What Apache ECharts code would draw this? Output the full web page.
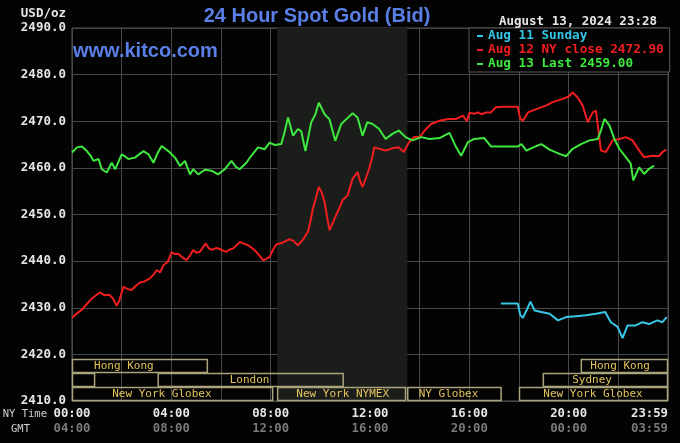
<!DOCTYPE html>
<html>
<head>
<meta charset="utf-8">
<script src="https://cdn.jsdelivr.net/npm/echarts@6/dist/echarts.min.js"></script>
<style>
html,body{margin:0;padding:0;background:#000;}
#chart{width:680px;height:443px;}
</style>
</head>
<body>
<div id="chart"></div>
<script>
// ---------- DATA ----------
const titleText = '24 Hour Spot Gold (Bid)';
const siteText = 'www.kitco.com';
const stampText = 'August 13, 2024 23:28';
const unitText = 'USD/oz';

const seriesNames = ['Aug 11 Sunday', 'Aug 12 NY close 2472.90', 'Aug 13 Last 2459.00'];

// [hour (NY time), price]
const aug11 = [[17.27,2430.9],[17.95,2430.9],[18.05,2428.5],[18.15,2427.8],[18.3,2429.4],[18.46,2431.3],[18.63,2429.4],[18.9,2429.1],[19.23,2428.7],[19.57,2427.3],[19.9,2428.0],[20.3,2428.2],[20.7,2428.4],[21.1,2428.7],[21.47,2429.1],[21.7,2426.9],[21.97,2425.9],[22.17,2423.5],[22.37,2426.2],[22.7,2426.2],[22.97,2426.9],[23.24,2426.5],[23.57,2427.3],[23.77,2426.9],[23.95,2428.0]];

const aug12 = [[0,2427.8],[0.2,2428.8],[0.4,2429.6],[0.6,2430.8],[0.8,2432.0],[1.0,2432.8],[1.13,2433.3],[1.3,2432.7],[1.5,2432.8],[1.65,2432.0],[1.8,2430.4],[1.9,2431.5],[2.07,2434.5],[2.25,2434.0],[2.4,2433.8],[2.55,2434.6],[2.74,2435.4],[2.9,2435.6],[3.14,2436.3],[3.3,2437.2],[3.41,2438.1],[3.55,2437.6],[3.68,2439.1],[3.85,2439.8],[4.01,2441.9],[4.15,2441.5],[4.28,2441.6],[4.45,2440.8],[4.61,2440.2],[4.75,2441.2],[4.88,2442.4],[5.0,2441.8],[5.15,2442.0],[5.38,2443.8],[5.5,2442.8],[5.62,2442.4],[5.8,2442.8],[5.95,2442.6],[6.1,2442.2],[6.22,2442.0],[6.35,2442.5],[6.49,2442.7],[6.76,2444.1],[6.9,2443.8],[7.09,2443.4],[7.25,2442.8],[7.42,2442.0],[7.55,2441.2],[7.69,2440.2],[7.8,2440.4],[7.96,2440.9],[8.1,2442.5],[8.23,2443.6],[8.5,2444.0],[8.76,2444.7],[8.9,2444.4],[9.1,2443.4],[9.3,2444.6],[9.5,2446.3],[9.6,2448.5],[9.7,2451.3],[9.82,2453.5],[9.94,2455.9],[10.05,2454.8],[10.17,2452.7],[10.27,2449.5],[10.37,2446.6],[10.5,2448.2],[10.64,2449.9],[10.8,2451.8],[10.9,2453.1],[11.1,2454.1],[11.3,2457.7],[11.5,2459.1],[11.6,2457.2],[11.7,2455.9],[11.85,2458.0],[11.97,2459.9],[12.1,2462.5],[12.17,2464.4],[12.36,2464.1],[12.63,2463.7],[12.9,2464.2],[13.16,2464.4],[13.36,2463.4],[13.57,2465.5],[13.77,2466.6],[14.0,2466.6],[14.2,2468.0],[14.46,2469.4],[14.8,2470.1],[15.14,2470.5],[15.47,2470.5],[15.74,2471.2],[15.9,2470.0],[16.0,2471.8],[16.2,2471.6],[16.34,2471.9],[16.5,2471.5],[16.67,2471.9],[16.87,2471.9],[17.07,2473.0],[17.34,2473.1],[17.95,2473.1],[18.05,2470.5],[18.16,2470.1],[18.36,2471.9],[18.7,2472.6],[19.1,2473.4],[19.36,2474.1],[19.76,2474.8],[20.0,2475.3],[20.16,2476.2],[20.36,2475.1],[20.56,2473.4],[20.77,2469.8],[20.97,2471.9],[21.1,2472.3],[21.2,2468.0],[21.3,2463.7],[21.5,2463.4],[21.77,2465.9],[22.04,2466.2],[22.3,2466.6],[22.57,2465.9],[22.84,2463.7],[23.04,2462.3],[23.37,2462.6],[23.64,2462.5],[23.77,2463.4],[23.93,2463.9]];

const aug13 = [[0,2463.3],[0.2,2464.4],[0.4,2464.6],[0.6,2463.6],[0.75,2462.6],[0.87,2461.5],[1.07,2461.9],[1.2,2459.7],[1.4,2459.0],[1.6,2461.1],[1.74,2459.7],[2.0,2462.9],[2.15,2462.4],[2.27,2461.9],[2.54,2462.2],[2.7,2462.9],[2.88,2463.6],[3.08,2462.9],[3.28,2461.1],[3.45,2463.2],[3.61,2464.7],[3.88,2463.6],[4.15,2462.2],[4.35,2460.4],[4.55,2461.5],[4.75,2458.6],[4.88,2459.7],[5.08,2458.6],[5.35,2459.6],[5.62,2459.4],[5.88,2458.6],[6.15,2459.7],[6.42,2461.5],[6.6,2460.2],[6.75,2459.7],[7.02,2461.1],[7.22,2462.6],[7.49,2464.4],[7.76,2464.0],[7.96,2465.4],[8.16,2464.9],[8.43,2465.1],[8.55,2467.5],[8.7,2470.8],[8.9,2466.9],[9.1,2468.3],[9.23,2467.9],[9.4,2463.6],[9.63,2469.7],[9.8,2471.5],[9.94,2474.0],[10.17,2471.5],[10.37,2470.4],[10.6,2465.8],[10.84,2469.4],[11.04,2470.4],[11.3,2471.7],[11.5,2470.8],[11.7,2466.9],[11.89,2469.8],[12.1,2469.4],[12.36,2468.4],[12.63,2466.2],[12.9,2467.3],[13.16,2468.0],[13.43,2466.6],[13.7,2465.9],[14.07,2466.6],[14.4,2466.2],[14.8,2466.4],[15.2,2467.5],[15.47,2464.4],[15.67,2462.6],[15.94,2465.5],[16.2,2466.2],[16.6,2466.4],[16.87,2464.6],[17.95,2464.6],[18.1,2465.1],[18.3,2463.7],[18.57,2464.4],[18.9,2465.1],[19.23,2463.9],[19.63,2463.0],[19.9,2462.5],[20.16,2464.1],[20.5,2465.1],[20.84,2465.9],[21.17,2466.2],[21.3,2468.0],[21.44,2470.5],[21.64,2469.1],[21.84,2466.2],[22.04,2464.1],[22.3,2462.3],[22.5,2460.9],[22.6,2457.3],[22.84,2460.1],[23.04,2458.7],[23.24,2459.8],[23.44,2460.5]];

// x tick labels (hours -> NY time / GMT)
const nyTickLabels = {0:'00:00',4:'04:00',8:'08:00',12:'12:00',16:'16:00',20:'20:00',24:'23:59'};
const gmtTickLabels = {0:'04:00',4:'08:00',8:'12:00',12:'16:00',16:'20:00',20:'00:00',24:'03:59'};

// Market sessions (NY hours)
const sessionNames  = ['Hong Kong','','London','New York Globex','New York NYMEX','NY Globex','New York Globex','Sydney','Hong Kong'];
const sessionRows   = [0,1,1,2,2,2,2,1,0];
const sessionStarts = [0,0,3.45,0,8.26,13.5,18.0,18.96,20.49];
const sessionEnds   = [5.47,0.93,10.94,8.1,13.45,17.3,24,24,24];
const sessionLabelAt= [2.09,0,7.15,3.62,10.9,15.16,20.98,20.94,22.07];

// NYMEX shaded period
const nymexStart = 8.26, nymexEnd = 13.5;

// ---------- CHART ----------
const colors = ['#37c6e6', '#f01e1e', '#3ee83e'];
const mono = '"DejaVu Sans Mono", "Liberation Mono", monospace';
const chart = echarts.init(document.getElementById('chart'), null, {renderer: 'canvas'});

const sessionData = sessionNames.map((n, i) => ({
  name: n, value: [sessionStarts[i], sessionEnds[i], sessionRows[i], sessionLabelAt[i]]
}));

const option = {
  animation: false,
  backgroundColor: '#030303',
  grid: {left: 72, top: 28, right: 12, bottom: 42, show: true, borderColor: '#545454', borderWidth: 1,
         containLabel: false, outerBoundsMode: 'none'},
  legend: {
    orient: 'vertical', left: 469, top: 28,
    padding: [1, 6, 1, 8], itemGap: 0, itemWidth: 6, itemHeight: 2, icon: 'rect',
    backgroundColor: '#030303', borderColor: '#5a5a5a', borderWidth: 1, borderRadius: 0,
    selectedMode: false,
    textStyle: {fontFamily: mono, fontWeight: 'bold', fontSize: 12.7, lineHeight: 14},
    data: seriesNames.map((n, i) => ({name: n, textStyle: {color: colors[i]}}))
  },
  xAxis: {
    type: 'value', min: 0, max: 24, interval: 2,
    axisLine: {show: false}, axisTick: {show: false},
    splitLine: {show: true, lineStyle: {color: '#484848', width: 1}},
    axisLabel: {
      margin: 5, showMaxLabel: true, showMinLabel: true, hideOverlap: false, alignMaxLabel: 'right',
      formatter: v => nyTickLabels[v] !== undefined ? '{a|' + nyTickLabels[v] + '}\n{b|' + gmtTickLabels[v] + '}' : '',
      rich: {
        a: {fontFamily: mono, fontWeight: 'bold', fontSize: 12.3, color: '#e6e6e6', lineHeight: 15.5},
        b: {fontFamily: mono, fontWeight: 'bold', fontSize: 12.3, color: '#7a7a7a', lineHeight: 15.5}
      }
    }
  },
  yAxis: {
    type: 'value', min: 2410, max: 2490, interval: 10,
    axisLine: {show: false}, axisTick: {show: false},
    splitLine: {show: true, lineStyle: {color: '#484848', width: 1}},
    axisLabel: {
      margin: 6, fontFamily: mono, fontWeight: 'bold', fontSize: 12.5, color: '#e6e6e6',
      formatter: v => v.toFixed(1)
    }
  },
  graphic: [
    {type: 'text', x: 317, y: 16, z: 10, style: {text: titleText, fill: '#5a7fe6', font: 'bold 20px "Liberation Sans", Arial, sans-serif', align: 'center', verticalAlign: 'middle'}},
    {type: 'text', x: 73, y: 51, z: 10, style: {text: siteText, fill: '#5a7fe6', font: 'bold 20px "Liberation Sans", Arial, sans-serif', align: 'left', verticalAlign: 'middle'}},
    {type: 'text', x: 657, y: 21.5, z: 10, style: {text: stampText, fill: '#e6e6e6', font: 'bold 12.5px ' + mono, align: 'right', verticalAlign: 'middle'}},
    {type: 'text', x: 66, y: 14, z: 10, style: {text: unitText, fill: '#e6e6e6', font: 'bold 12.5px ' + mono, align: 'right', verticalAlign: 'middle'}},
    {type: 'text', x: 47, y: 414, z: 10, style: {text: 'NY Time', fill: '#d0d0d0', font: '10.5px ' + mono, align: 'right', verticalAlign: 'middle'}},
    {type: 'text', x: 30, y: 429, z: 10, style: {text: 'GMT', fill: '#d0d0d0', font: '10.5px ' + mono, align: 'right', verticalAlign: 'middle'}}
  ],
  series: [
    {
      name: 'nymex-shade', type: 'line', z: -1, silent: true, data: [[nymexStart, 2450]], showSymbol: false,
      lineStyle: {opacity: 0},
      markArea: {silent: true, itemStyle: {color: '#1b1d1b'}, data: [[{xAxis: nymexStart}, {xAxis: nymexEnd}]]}
    },
    {
      name: 'sessions', type: 'custom', silent: true, z: 3, data: sessionData,
      encode: {x: [0, 1]},
      renderItem: (params, api) => {
        const s = api.value(0), e = api.value(1), row = api.value(2), lab = api.value(3);
        const p0 = api.coord([s, 2410]);
        const p1 = api.coord([e, 2410]);
        const rowH = 14;
        const top = p0[1] - (3 - row) * rowH;
        const children = [{
          type: 'rect',
          shape: {x: p0[0] + 0.5, y: top + 0.5, width: p1[0] - p0[0] - 1, height: rowH - 1},
          style: {fill: null, stroke: '#aaa37c', lineWidth: 1.5}
        }];
        const name = sessionNames[params.dataIndex];
        if (name) {
          children.push({
            type: 'text',
            x: api.coord([lab, 2410])[0], y: top + rowH / 2,
            style: {text: name, fill: '#e2c45c', font: '11px ' + mono, align: 'center', verticalAlign: 'middle'}
          });
        }
        return {type: 'group', children};
      }
    },
    {name: seriesNames[0], type: 'line', z: 4, data: aug11, showSymbol: false, color: colors[0], lineStyle: {width: 2, color: colors[0]}},
    {name: seriesNames[1], type: 'line', z: 4, data: aug12, showSymbol: false, color: colors[1], lineStyle: {width: 2, color: colors[1]}},
    {name: seriesNames[2], type: 'line', z: 5, data: aug13, showSymbol: false, color: colors[2], lineStyle: {width: 2, color: colors[2]}}
  ]
};
chart.setOption(option);
</script>
</body>
</html>
